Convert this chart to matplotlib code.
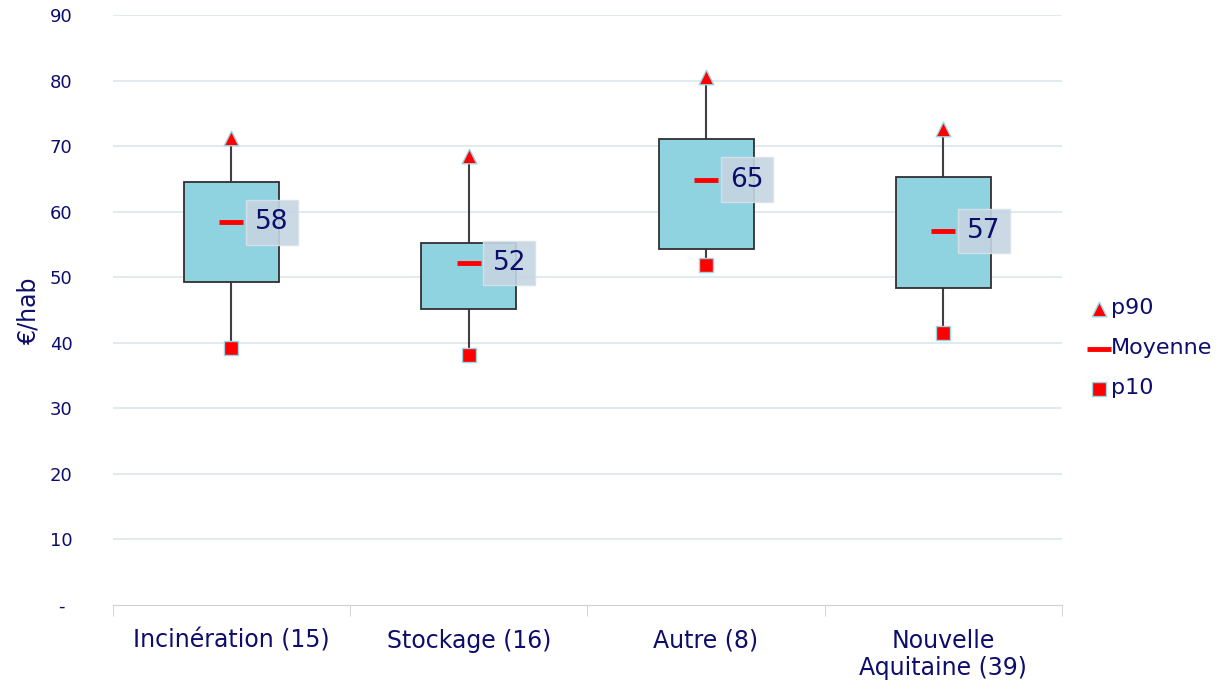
import numpy as np
import matplotlib
matplotlib.use('Agg')
import matplotlib.pyplot as plt

# données
categories = ['Incinération (15)', 'Stockage (16)', 'Autre (8)', 'Nouvelle\nAquitaine (39)']
p10 = [39.2, 38.2, 51.9, 41.5]
q1 = [49.3, 45.2, 54.4, 48.4]
q3 = [64.6, 55.3, 71.1, 65.3]
moyenne = [58.4, 52.2, 64.9, 57.1]
p90 = [71.3, 68.5, 80.5, 72.7]
labels_moy = ['58', '52', '65', '57']
yticks = [0, 10, 20, 30, 40, 50, 60, 70, 80, 90]
ytick_labels = ['-', '10', '20', '30', '40', '50', '60', '70', '80', '90']

navy = '#0d0d6b'
plt.rcParams['font.family'] = ['DejaVu Sans']

fig = plt.figure(figsize=(12.25, 6.93), dpi=100)
ax = fig.add_axes([0.092, 0.127, 0.775, 0.851])

x = np.arange(len(categories))

# grille
for v in yticks[1:]:
    ax.axhline(v, color='#dce6ea', lw=1.2, zorder=0)

# moustaches
ax.vlines(x, p10, q1, color='#404040', lw=1.5, zorder=1)
ax.vlines(x, q3, p90, color='#404040', lw=1.5, zorder=1)

# boites
ax.bar(x, np.array(q3) - np.array(q1), bottom=q1, width=0.4,
       color='#8fd3e0', edgecolor='#303030', lw=1.3, zorder=2)

# marqueurs
ax.scatter(x, p90, marker='^', s=110, color='red', edgecolors='#9ad6e4', lw=1, zorder=4, label='p90')
ax.scatter(x, moyenne, marker='_', s=300, color='red', lw=3.5, zorder=4, label='Moyenne')
ax.scatter(x, p10, marker='s', s=110, color='red', edgecolors='#9ad6e4', lw=1, zorder=4, label='p10')

# etiquettes de la moyenne
for xi, m, lab in zip(x, moyenne, labels_moy):
    ax.text(xi + 0.1, m, lab, fontsize=19, color=navy, va='center', ha='left', zorder=5,
            bbox=dict(boxstyle='square,pad=0.35', fc='#c5d5e0', ec='#d8e2ea', alpha=0.9))

ax.set_ylim(0, 90)
ax.set_xlim(-0.5, len(categories) - 0.5)
ax.set_yticks(yticks)
ax.set_yticklabels(ytick_labels, color=navy, fontsize=13, ha='center')
ax.set_xticks(x)
ax.set_xticklabels(categories, color=navy, fontsize=17)
ax.tick_params(axis='y', length=0, pad=37)
ax.tick_params(axis='x', length=0, pad=17)
ax.set_xticks(np.arange(-0.5, len(categories)), minor=True)
ax.tick_params(axis='x', which='minor', length=8, color='#d0d0d0')
ax.set_ylabel('€/hab', color=navy, fontsize=17, labelpad=7)

for s in ['top', 'right', 'left']:
    ax.spines[s].set_visible(False)
ax.spines['bottom'].set_color('#d0d0d0')

leg = ax.legend(loc='center left', bbox_to_anchor=(1.005, 0.435), frameon=False,
                fontsize=16, labelcolor=navy, handletextpad=0.0, handlelength=1.1,
                labelspacing=0.9)

fig.savefig('out.png', dpi=100)
